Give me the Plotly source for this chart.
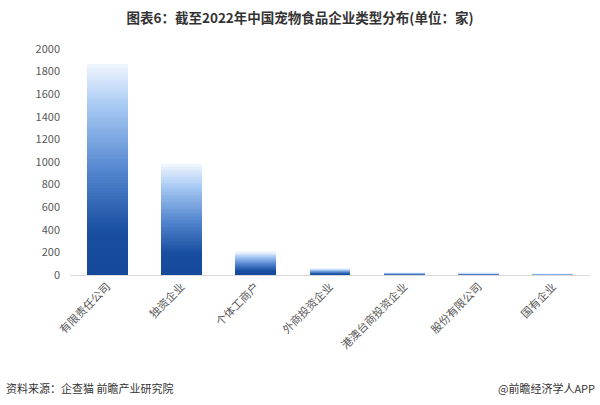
import plotly.graph_objects as go

categories = ["有限责任公司", "独资企业", "个体工商户", "外商投资企业", "港澳台商投资企业", "股份有限公司", "国有企业"]
values = [1867, 982, 206, 59, 24, 20, 13]
y_ticks = [0, 200, 400, 600, 800, 1000, 1200, 1400, 1600, 1800, 2000]

title_text = "图表6：截至2022年中国宠物食品企业类型分布(单位：家)"
source_text = "资料来源：企查猫 前瞻产业研究院"
brand_text = "@前瞻经济学人APP"

# gradient stops (fraction of bar height -> rgb)
stops = [(0.0, (20, 72, 155)), (0.2, (24, 78, 160)), (0.5, (85, 135, 208)),
         (0.8, (168, 202, 244)), (1.0, (240, 246, 254))]


def grad(t):
    for (t0, c0), (t1, c1) in zip(stops[:-1], stops[1:]):
        if t0 <= t <= t1:
            f = (t - t0) / (t1 - t0)
            return "rgb(%d,%d,%d)" % tuple(round(a + (b - a) * f) for a, b in zip(c0, c1))
    return "rgb(%d,%d,%d)" % stops[-1][1]


N = 80
fig = go.Figure()
for i in range(N):
    fig.add_trace(go.Bar(
        x=categories,
        y=[v / N for v in values],
        marker=dict(color=grad((i + 0.5) / N), line=dict(width=0)),
        showlegend=False,
        hoverinfo="skip",
    ))

fig.update_layout(
    width=600, height=405,
    barmode="stack",
    bargap=0.45,
    paper_bgcolor="white",
    plot_bgcolor="white",
    margin=dict(l=70, r=10, t=49, b=130),
    font=dict(family="Noto Sans CJK SC", color="#595959"),
    title=dict(text="<b>" + title_text + "</b>", x=0.5, xanchor="center", y=0.955, yanchor="middle",
               font=dict(size=13.5, color="#333333", family="Noto Sans CJK SC")),
    xaxis=dict(
        type="category",
        tickangle=-45,
        tickfont=dict(size=11, color="#595959", family="Noto Sans CJK SC"),
        showline=True, linecolor="#d9d9d9", linewidth=1,
        ticks="", showgrid=False, automargin=False,
    ),
    yaxis=dict(
        range=[0, 2000],
        tickvals=y_ticks,
        tickfont=dict(size=11, color="#595959", family="Noto Sans CJK SC"),
        showgrid=False, zeroline=False, showline=False, ticks="",
        ticklabelstandoff=9, automargin=False,
    ),
    annotations=[
        dict(text=source_text, xref="paper", yref="paper", x=-0.127, y=-0.5, xanchor="left",
             yanchor="middle", showarrow=False, font=dict(size=11, color="#333333")),
        dict(text=brand_text, xref="paper", yref="paper", x=1.013, y=-0.5, xanchor="right",
             yanchor="middle", showarrow=False, font=dict(size=11, color="#333333")),
    ],
)

fig.write_html("out.html", config={"displayModeBar": False},
               post_script="document.body.style.margin='0';document.body.style.padding='0';")
